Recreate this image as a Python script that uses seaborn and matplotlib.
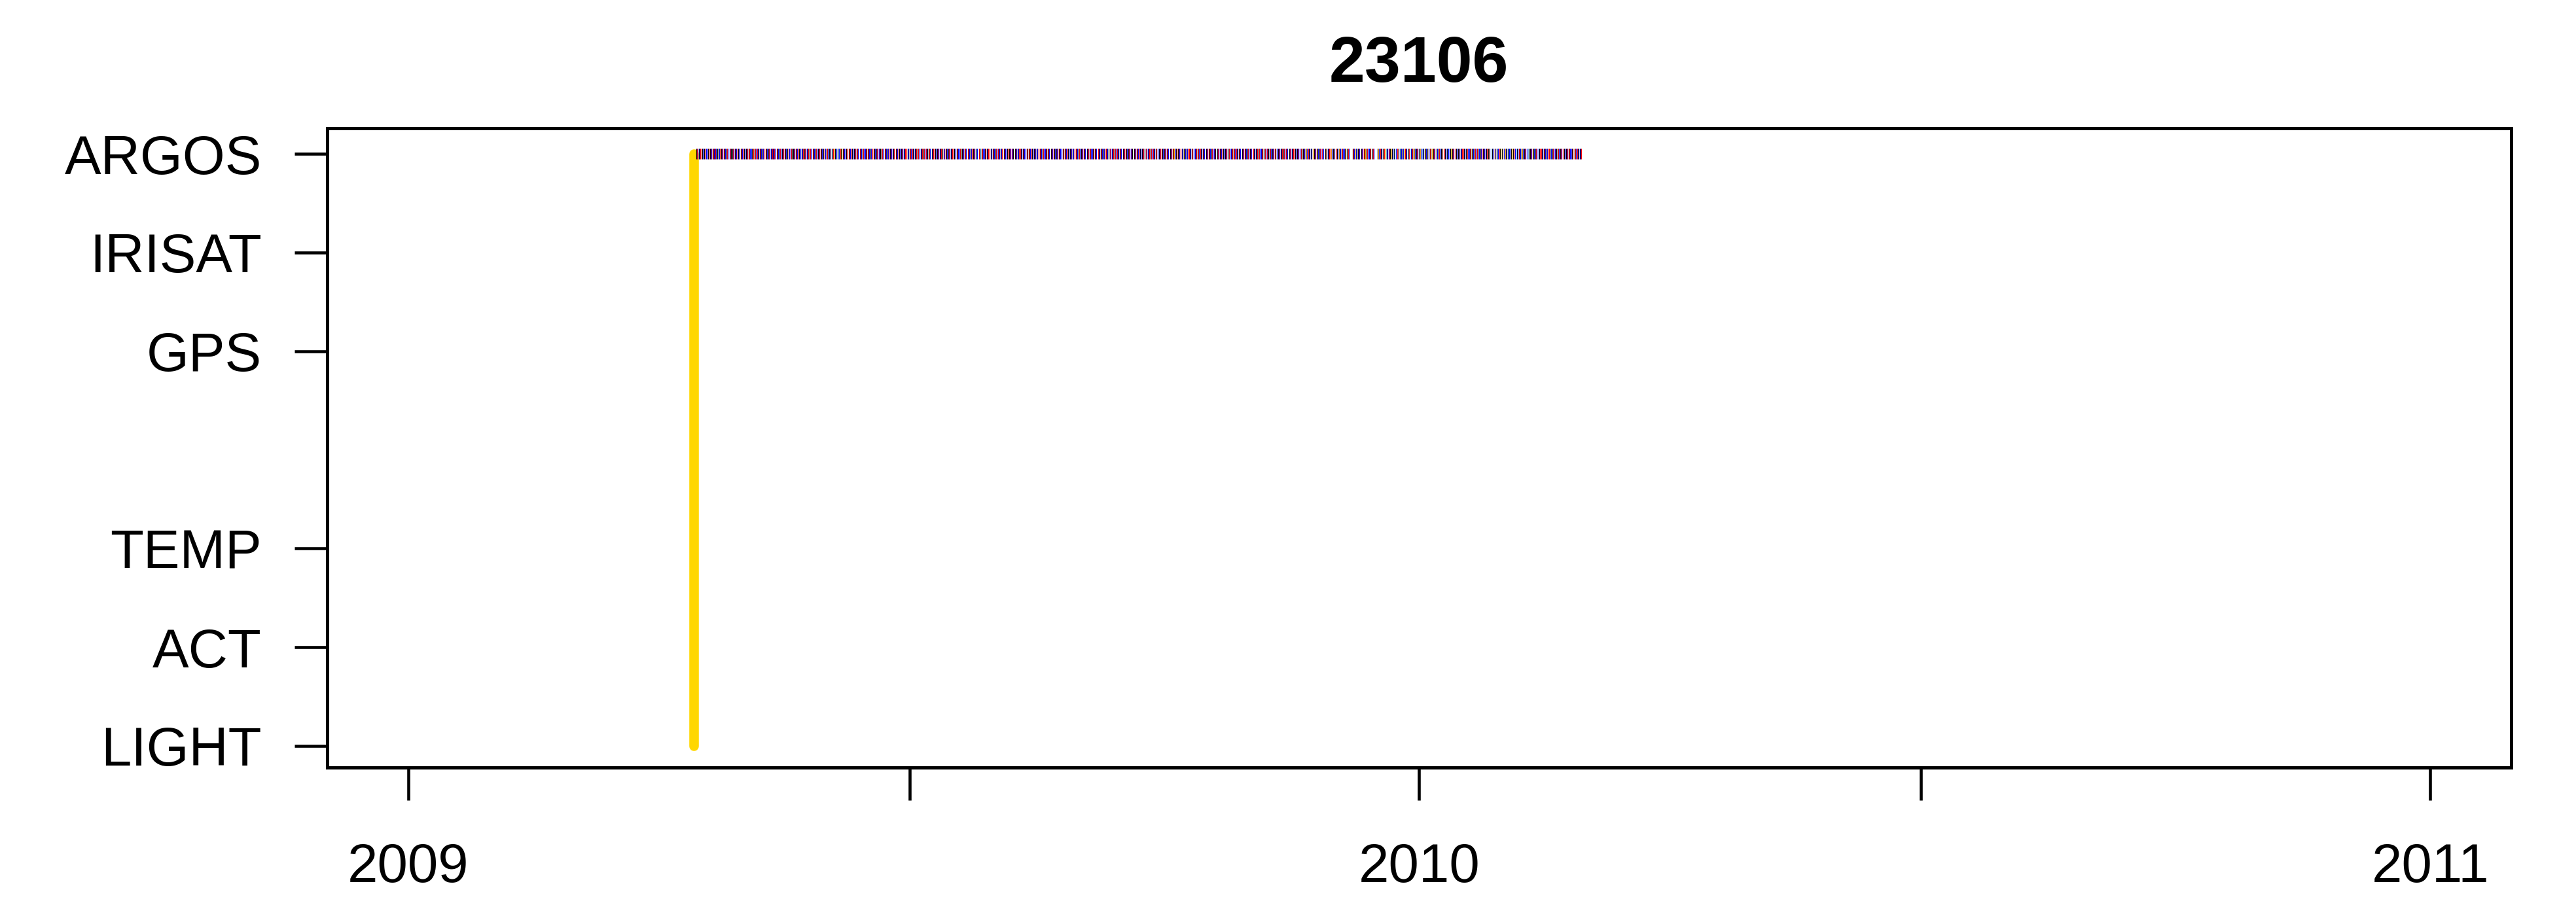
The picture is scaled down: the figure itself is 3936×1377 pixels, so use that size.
import numpy as np
import pandas as pd
import matplotlib
matplotlib.use("Agg")
import matplotlib.pyplot as plt
import matplotlib.dates as mdates
import seaborn as sns

# ---------------- data ----------------
title = "23106"
sensor_labels = ["LIGHT", "ACT", "TEMP", "", "GPS", "IRISAT", "ARGOS"]
sensor_levels = [1, 2, 3, 4, 5, 6, 7]
label_ticks = [1, 2, 3, 5, 6, 7]
label_names = ["LIGHT", "ACT", "TEMP", "GPS", "IRISAT", "ARGOS"]

deploy_date = "2009-04-14"          # yellow deployment line
deploy_from = "LIGHT"
deploy_to = "ARGOS"

x_tick_dates = ["2009-01-01", "2009-07-01", "2010-01-01", "2010-07-01", "2011-01-01"]
x_tick_labels = ["2009", "", "2010", "", "2011"]
x_range = ["2009-01-01", "2011-01-01"]

# ARGOS fixes: one token per day, letters = location-class colour of each fix
argos_missing = ["2009-12-07", "2009-12-16"]
argos_months = {
    "2009-04-15": "KRB KBR RKB KRB BKR KRB KRBK RBK KBR KRB RKB KRB BRK KRB KRB RKB",
    "2009-05-01": "KRB RKB KBR KRB BKR KRB RBK KRB KBR RKB KRB BKRB KRB RKB KRB KBR RKB KRB BRK KRB KRB RKB KBR KRB BKR KRB RKB KRB KBR RKB KRB",
    "2009-06-01": "KRB KOB LKR OKB KLB RKO KRB BKR KRB RKB KBR KRB RKB KRB BKR KRB KBR RKB KRB BRK KRB RKB KBR KRB BKR KRB RKB KRB KBR RKB",
    "2009-07-01": "KRB RKB KBR KRB BKR KRB RBK KRB KBR RKB KRB BKR KRB RKB KRB KBR RKB KRB BRK KRB KRB RKB KBR KRB KLB RKL KRB BKR KBR RKB KRB",
    "2009-08-01": "KRB RKB KBR KRB BKR KRB RBK KRB KBR RKB KRB BKR KRB RKB KRB KBR RKB KRB BRK KRB KRB RKB KBR KRB BKR KRB RKB KRB KBR RKB KRB",
    "2009-09-01": "KRB RKB KBR KRB BKR KRB RBK KRB KBR RKB KRB BKR KRB RKB KRB KBR RKB KRB BRK KRB KRB RKB KBR KRB BKR KRB RKB KRB KBR RKB",
    "2009-10-01": "KRB RKB KBR KRO BKR KRB RBK KOB KBR RKB KRB BKR KRB RKB KRB KBR RKB KRB BRK KRB KRB RKB KBR KRB BKR KRB RKB KRB KBR RKB KRB",
    "2009-11-01": "KRB RKB KBR KRB BKR KRB RBK KRB KBR RKB KRB BKR KRB RKB KRB KBR RKB KRB BRK KRB KOB RKB KBO KRB OKB KRB RLB KOB KBR ROB",
    "2009-12-01": "KOB RKB OKB KRB BKO KRB KRB OBK KRB KBR RKO KRB BKR KRB KOB RKB KRO LKB BRK OKB KLB ROB LKB KBO RKB KRL BKR KOB KRB",
    "2010-01-01": "KOB LKB OKB KYB RKO KRB LOB KRB KBO RKB KLB BKO KRB RKB KOB KBR RKB KRB BRK KOB KRB RKB KBR KRB BKR KOB LKB YOB KLB RKO KYB",
    "2010-02-01": "OKB KLB BKO KRB LKB RKB KOB KRB BLK KRB OKB KRB BKR RKB KRB KBR RKB KRB BRK KRB KRB RKB KBR KRB BKR KRB RKB KBR",
}
class_colors = {"K": "#000000", "R": "#FF0000", "B": "#0000FF",
                "O": "#FFA500", "L": "#87CEFA", "Y": "#F5DEB3"}

# ---------------- build tables ----------------
missing = set(pd.to_datetime(argos_missing))
rows = []
for start, tokens in argos_months.items():
    day = pd.Timestamp(start)
    for tok in tokens.split():
        while day in missing:
            day += pd.Timedelta(days=1)
        for i, c in enumerate(tok):
            rows.append({"t": day + pd.Timedelta(hours=6 * i), "cls": c, "y": 7})
        day += pd.Timedelta(days=1)
argos = pd.DataFrame(rows)

lvl = dict(zip(sensor_labels, sensor_levels))
deploy = pd.DataFrame({"t": pd.to_datetime([deploy_date, deploy_date]),
                       "y": [lvl[deploy_from], lvl[deploy_to]]})

# ---------------- figure ----------------
sns.set_theme(style="ticks")
plt.rcParams["font.family"] = ["Liberation Sans", "DejaVu Sans"]
DPI = 100
fig = plt.figure(figsize=(39.37, 13.77), dpi=DPI)
ax = fig.add_axes([0.1270, 0.1481, 0.8476, 0.7096])

sns.lineplot(data=deploy, x="t", y="y", estimator=None, sort=False,
             color="#FFD700", linewidth=10.5, solid_capstyle="round", ax=ax, zorder=2)
sns.scatterplot(data=argos, x="t", y="y", hue="cls", palette=class_colors,
                marker="|", s=140, linewidth=0.85, legend=False, ax=ax, zorder=3)

x0, x1 = pd.to_datetime(x_range)
ext = (x1 - x0) * 0.04
ax.set_xlim(x0 - ext, x1 + ext)
ax.set_ylim(0.78, 7.26)

ax.set_xticks(pd.to_datetime(x_tick_dates))
ax.set_xticklabels(x_tick_labels)
ax.set_yticks(label_ticks)
ax.set_yticklabels(label_names)
ax.set_xlabel("")
ax.set_ylabel("")

for sp in ax.spines.values():
    sp.set_visible(True)
    sp.set_color("black")
    sp.set_linewidth(3.6)

ax.tick_params(axis="both", which="major", direction="out", length=36, width=3.3,
               color="black", labelsize=60, labelcolor="black",
               bottom=True, left=True, top=False, right=False)
ax.tick_params(axis="x", pad=46)
ax.tick_params(axis="y", pad=36)
ax.set_facecolor("white")
fig.patch.set_facecolor("white")

fig.text(0.5507, 1 - 100 / 1377, title, ha="center", va="center",
         fontsize=71, fontweight="bold", color="black")

fig.savefig("out.png", dpi=DPI, facecolor="white")
